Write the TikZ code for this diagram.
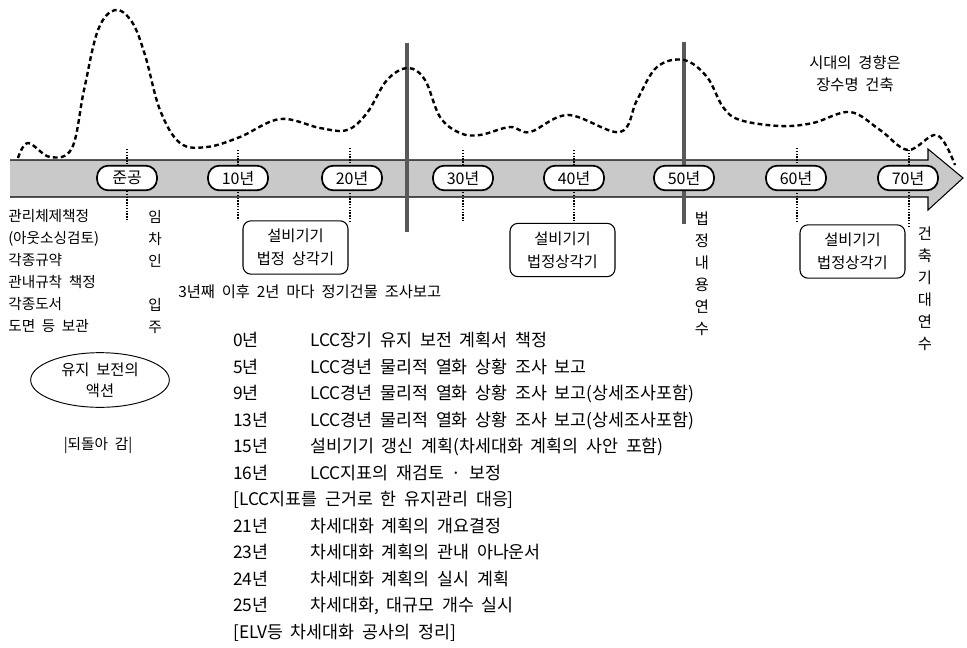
\documentclass[tikz,border=0pt]{standalone}
\usepackage{fontspec}
\setmainfont{Noto Sans CJK KR}[WordSpace=2.0]
\usetikzlibrary{shapes.geometric}
\begin{document}
\begin{tikzpicture}[x=0.75pt,y=-0.75pt,
  pill/.style={draw, line width=1.3pt, fill=white, rounded corners=8.5pt, minimum width=45pt, minimum height=18.5pt, inner sep=0pt, font=\fontsize{12}{12}\selectfont},
  tickline/.style={densely dotted, line width=1.1pt},
  heavy/.style={line width=3.2pt, draw=black!65},
  curvestyle/.style={line width=1.8pt, dash pattern=on 3.6pt off 2.4pt},
  sbox/.style={draw, line width=0.8pt, rounded corners=6pt, minimum width=78.75pt, minimum height=40pt, align=center, inner sep=0pt, font=\fontsize{11.5}{17}\selectfont},
  lbl/.style={anchor=west, inner sep=0pt, text height=9pt, text depth=2pt, font=\fontsize{11}{11}\selectfont},
  lst/.style={anchor=west, inner sep=0pt, text height=9.5pt, text depth=2.5pt, font=\fontsize{13}{13}\selectfont},
  vtxt/.style={align=center, inner sep=0pt, font=\fontsize{11.5}{16.5}\selectfont}
]
\useasboundingbox (0,0) rectangle (967,647);
% timeline band with arrow head
\fill[gray!42] (10,160) -- (928,160) -- (928,149) -- (963,178) -- (928,210) -- (928,197) -- (10,197) -- cycle;
\draw[line width=0.8pt] (10,160) -- (928,160) -- (928,149) -- (963,178) -- (928,210) -- (928,197) -- (10,197);
% dotted ticks
\foreach \xx/\ya/\yb in {127/149/220, 238/150/220, 350/148/222, 463/150/222, 574/150/223, 797/148/223, 909/150/226}
  \draw[tickline] (\xx,\ya) -- (\xx,\yb);
% heavy lines
\draw[heavy] (407,43) -- (407,232);
\draw[heavy] (684,42) -- (684,224);
% dashed curve
\draw[curvestyle] plot[smooth, tension=0.6] coordinates {
 (18,158) (28,143) (50,157) (72,148) (84,90) (98,30) (115,10) (132,22) (145,55) (160,110) (180,143) (207,147)
 (240,137) (280,119) (320,128) (347,130) (367,113) (387,80) (408,68) (425,80) (440,117) (460,133) (480,135)
 (510,127) (530,132) (568,115) (620,132) (637,100) (657,67) (684,60) (707,77) (723,107) (740,120) (780,126)
 (813,123) (850,112) (880,130) (908,150) (937,135) (955,165)};
% pills
\node[pill] (p0) at (127,178) {준공};
\node[pill] (p10) at (238,178) {10년};
\node[pill] (p20) at (352,178) {20년};
\node[pill] (p30) at (463,178) {30년};
\node[pill] (p40) at (574,178) {40년};
\node[pill] (p50) at (684,178) {50년};
\node[pill] (p60) at (796,178) {60년};
\node[pill] (p70) at (908,178) {70년};
% note top right
\node[vtxt] (trend) at (855,74) {시대의 경향은\\장수명 건축};
% left column
\foreach \t [count=\i from 0] in {관리체제책정,(아웃소싱검토),각종규약,관내규착 책정,각종도서,도면 등 보관}
  \node[lbl] (l\i) at (8,217+22*\i) {\t};
\node[vtxt, font=\fontsize{11}{16.5}\selectfont] (tenant) at (155,239) {임\\차\\인};
\node[vtxt, font=\fontsize{11}{16.5}\selectfont] (movein) at (155,316) {입\\주};
% ellipse
\node[ellipse, draw, line width=0.7pt, minimum width=104pt, minimum height=41pt, inner sep=0pt, align=center, font=\fontsize{11.5}{15.5}\selectfont] (act) at (100,380) {유지 보전의\\액션};
\node[font=\fontsize{11}{11}\selectfont, inner sep=0pt] (back) at (98,445) {|되돌아 감|};
% boxes
\node[sbox] (b1) at (295.5,247.5) {설비기기\\법정 상각기};
\node[sbox] (b2) at (562.5,250) {설비기기\\법정상각기};
\node[sbox] (b3) at (852.5,251.5) {설비기기\\법정상각기};
\node[lbl, font=\fontsize{11.5}{11.5}\selectfont] (survey) at (178,293) {3년째 이후 2년 마다 정기건물 조사보고};
% vertical labels
\node[vtxt] (legal) at (702,274) {법\\정\\내\\용\\연\\수};
\node[vtxt] (expect) at (925,289) {건\\축\\기\\대\\연\\수};
% list
\foreach \yr/\desc [count=\i from 0] in {
  0년/{LCC장기 유지 보전 계획서 책정},
  5년/{LCC경년 물리적 열화 상황 조사 보고},
  9년/{LCC경년 물리적 열화 상황 조사 보고(상세조사포함)},
  13년/{LCC경년 물리적 열화 상황 조사 보고(상세조사포함)},
  15년/{설비기기 갱신 계획(차세대화 계획의 사안 포함)},
  16년/{LCC지표의 재검토 · 보정},
  x/x,
  21년/{차세대화 계획의 개요결정},
  23년/{차세대화 계획의 관내 아나운서},
  24년/{차세대화 계획의 실시 계획},
  25년/{차세대화, 대규모 개수 실시}}
{
  \ifnum\i=6\relax\else
  \node[lst] (y\i) at (233,342+26.5*\i) {\yr};
  \node[lst] (d\i) at (310,342+26.5*\i) {\desc};
  \fi
}
\node[lst] (br1) at (233,342+26.5*6) {[LCC지표를 근거로 한 유지관리 대응]};
\node[lst] (br2) at (233,342+26.5*11) {[ELV등 차세대화 공사의 정리]};
\end{tikzpicture}
\end{document}
